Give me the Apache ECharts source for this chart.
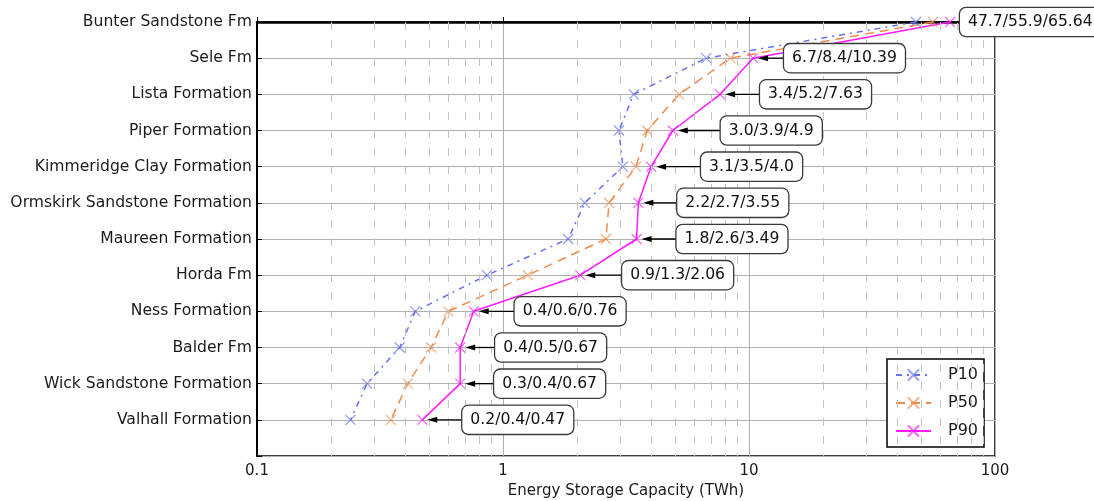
<!DOCTYPE html>
<html>
<head>
<meta charset="utf-8">
<script src="https://cdn.jsdelivr.net/npm/echarts@6/dist/echarts.min.js"></script>
<style>
html,body{margin:0;padding:0;background:#fff;}
#chart{width:1094px;height:501px;}
</style>
</head>
<body>
<div id="chart"></div>
<script>
// ---- data (top-to-bottom order) ----
const categories = [
  'Bunter Sandstone Fm', 'Sele Fm', 'Lista Formation', 'Piper Formation',
  'Kimmeridge Clay Formation', 'Ormskirk Sandstone Formation', 'Maureen Formation',
  'Horda Fm', 'Ness Formation', 'Balder Fm', 'Wick Sandstone Formation', 'Valhall Formation'
];
const p10 = [47.7, 6.7, 3.4, 2.96, 3.07, 2.15, 1.84, 0.86, 0.44, 0.38, 0.28, 0.24];
const p50 = [55.9, 8.4, 5.2, 3.86, 3.47, 2.7, 2.62, 1.26, 0.6, 0.51, 0.41, 0.35];
const p90 = [65.64, 10.39, 7.63, 4.9, 4.0, 3.55, 3.49, 2.06, 0.76, 0.67, 0.67, 0.47];
const annotationTexts = [
  '47.7/55.9/65.64', '6.7/8.4/10.39', '3.4/5.2/7.63', '3.0/3.9/4.9',
  '3.1/3.5/4.0', '2.2/2.7/3.55', '1.8/2.6/3.49', '0.9/1.3/2.06',
  '0.4/0.6/0.76', '0.4/0.5/0.67', '0.3/0.4/0.67', '0.2/0.4/0.47'
];
const xTickValues = [0.1, 1, 10, 100];
const xTickLabels = ['0.1', '1', '10', '100'];
const minorGridValues = [0.2, 0.3, 0.4, 0.5, 0.6, 0.7, 0.8, 0.9,
                         2, 3, 4, 5, 6, 7, 8, 9,
                         20, 30, 40, 50, 60, 70, 80, 90];

// ---- style (pixel gaps between point and annotation box) ----
const annotationGaps = [10, 31, 40, 48, 50, 39, 40, 42, 41, 35, 34, 40];

const FONT = '"DejaVu Sans", "Liberation Sans", sans-serif';
const colors = { P10: '#6470f0', P50: '#f08a4b', P90: '#ff1aff' };
const xSymbol = 'path://M0,0L10,10M0,10L10,0';

function pairs(vals) { return vals.map((v, i) => [v, i]); }

function lineSeries(name, vals, lineType) {
  const c = colors[name];
  return {
    name: name,
    type: 'line',
    data: pairs(vals),
    symbol: xSymbol,
    symbolSize: 10,
    showAllSymbol: true,
    lineStyle: { color: c, width: 1.5, type: lineType },
    itemStyle: { color: 'rgba(0,0,0,0)', borderColor: c, borderWidth: 1.2, opacity: 0.7 },
    emphasis: { disabled: true },
    z: 3,
    animation: false
  };
}

const chart = echarts.init(document.getElementById('chart'), null, { renderer: 'canvas' });

const option = {
  animation: false,
  backgroundColor: '#fff',
  grid: {
    left: 257, right: 99, top: 22, bottom: 45,
    containLabel: false,
    outerBoundsMode: 'none',
    show: true, borderColor: '#000', borderWidth: 1.5, backgroundColor: 'transparent'
  },
  legend: {
    data: ['P10', 'P50', 'P90'],
    orient: 'vertical',
    left: 887, top: 359,
    backgroundColor: '#fff',
    borderColor: '#000', borderWidth: 1.5, borderRadius: 0,
    padding: [8, 6, 8, 8],
    itemWidth: 35, itemHeight: 14, itemGap: 12,
    textStyle: { fontFamily: FONT, fontSize: 16, color: '#1a1a1a', padding: [0, 0, 0, 12] },
    selectedMode: false
  },
  xAxis: {
    type: 'log',
    logBase: 10,
    min: 0.1, max: 100,
    name: 'Energy Storage Capacity (TWh)',
    nameLocation: 'middle',
    nameGap: 28,
    nameTextStyle: { fontFamily: FONT, fontSize: 15, color: '#1a1a1a' },
    axisLine: { show: true, lineStyle: { color: '#000', width: 2.5 } },
    axisTick: { show: true, inside: true, length: 5, lineStyle: { color: '#000' } },
    axisLabel: {
      fontFamily: FONT, fontSize: 15, color: '#1a1a1a', margin: 8,
      formatter: function (v) {
        for (let i = 0; i < xTickValues.length; i++) {
          if (Math.abs(Math.log10(v) - Math.log10(xTickValues[i])) < 1e-6) return xTickLabels[i];
        }
        return '';
      }
    },
    splitLine: { show: true, lineStyle: { color: '#b0b0b0', width: 1 } }
  },
  yAxis: {
    type: 'value',
    inverse: true,
    min: 0, max: 12, interval: 1,
    axisLine: { show: true, lineStyle: { color: '#000', width: 2 } },
    axisTick: { show: true, inside: true, length: 5, lineStyle: { color: '#000' } },
    axisLabel: {
      fontFamily: FONT, fontSize: 15.6, color: '#1a1a1a', margin: 5,
      formatter: function (v) { return categories[Math.round(v)] || ''; }
    },
    splitLine: { show: true, lineStyle: { color: '#b0b0b0', width: 1 } }
  },
  series: [
    {
      name: 'minor-grid',
      type: 'line',
      data: [],
      silent: true,
      z: 1,
      markLine: {
        silent: true,
        symbol: ['none', 'none'],
        label: { show: false },
        lineStyle: { color: '#c4c4c4', width: 1, type: [8, 10] },
        emphasis: { disabled: true },
        animation: false,
        data: minorGridValues.map(v => ({ xAxis: v }))
      }
    },
    lineSeries('P10', p10, [6, 5, 2, 5]),
    lineSeries('P50', p50, [9, 6]),
    lineSeries('P90', p90, 'solid'),
    {
      name: 'annotations',
      type: 'custom',
      data: pairs(p90),
      clip: false,
      z: 10,
      silent: true,
      renderItem: function (params, api) {
        const p = api.coord([api.value(0), api.value(1)]);
        const i = params.dataIndex;
        const gap = annotationGaps[i];
        const tipX = p[0] + 5;
        const boxX = p[0] + gap;
        const y = p[1];
        return {
          type: 'group',
          children: [
            { type: 'line', shape: { x1: tipX + 3, y1: y, x2: boxX, y2: y },
              style: { stroke: '#000', lineWidth: 1.3 } },
            { type: 'polygon', shape: { points: [[tipX, y], [tipX + 10, y - 3], [tipX + 10, y + 3]] },
              style: { fill: '#000' } },
            { type: 'text', x: boxX, y: y,
              style: {
                text: annotationTexts[i],
                font: '15.6px ' + FONT,
                fill: '#111',
                align: 'left', verticalAlign: 'middle',
                backgroundColor: '#fff',
                borderColor: '#3a3a3a', borderWidth: 1.3, borderRadius: 6,
                padding: [6, 8, 6, 8]
              } }
          ]
        };
      }
    }
  ]
};

chart.setOption(option);
</script>
</body>
</html>
